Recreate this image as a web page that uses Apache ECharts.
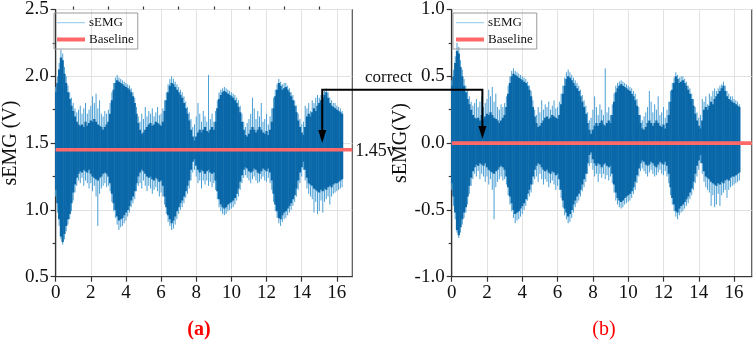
<!DOCTYPE html>
<html><head><meta charset="utf-8">
<script src="https://cdn.jsdelivr.net/npm/echarts@6/dist/echarts.min.js"></script>
<style>html,body{margin:0;padding:0;background:#fff}#c{width:754px;height:342px}</style>
</head><body><div id="c"></div>
<script>
// ---- data ----
const TIME_STEP = 0.1;           // seconds between envelope samples
const BASELINE_A = 1.45;         // raw baseline (V)
const BASELINE_B = 0.0;          // corrected baseline (V)
const X_MAJOR = [0, 2, 4, 6, 8, 10, 12, 14, 16];
const X_MINOR = [1, 3, 5, 7, 9, 11, 13, 15];
const Y_TICKS_A = [0.5, 1.0, 1.5, 2.0, 2.5];
const Y_TICKS_B = [-1.0, -0.5, 0.0, 0.5, 1.0];

// dense (dark) core of the raw sEMG, upper / lower envelope, one value per 0.1 s
const CORE_HI_A = [
  1.88,1.95,2.05,2.14,2.12,2.02,1.95,1.88,1.83,1.78,
  1.74,1.70,1.66,1.64,1.63,1.64,1.62,1.66,1.63,1.65,
  1.67,1.66,1.68,1.66,1.64,1.63,1.62,1.60,1.62,1.64,
  1.66,1.72,1.82,1.90,1.95,1.97,1.96,1.95,1.94,1.93,
  1.92,1.91,1.90,1.88,1.85,1.80,1.72,1.65,1.60,1.57,
  1.58,1.60,1.62,1.64,1.65,1.63,1.64,1.66,1.65,1.64,
  1.63,1.66,1.74,1.82,1.88,1.93,1.95,1.94,1.92,1.90,
  1.88,1.86,1.84,1.80,1.76,1.72,1.67,1.60,1.55,1.52,
  1.55,1.58,1.60,1.58,1.60,1.62,1.59,1.58,1.60,1.62,
  1.60,1.66,1.76,1.83,1.86,1.88,1.89,1.88,1.87,1.86,
  1.85,1.84,1.82,1.80,1.77,1.73,1.66,1.60,1.56,1.55,
  1.57,1.60,1.62,1.60,1.58,1.60,1.62,1.60,1.58,1.57,
  1.59,1.56,1.60,1.66,1.76,1.85,1.90,1.95,1.93,1.90,
  1.91,1.92,1.90,1.88,1.85,1.82,1.78,1.73,1.67,1.62,
  1.58,1.56,1.62,1.70,1.72,1.70,1.73,1.76,1.74,1.78,
  1.80,1.82,1.84,1.86,1.88,1.84,1.80,1.78,1.77,1.76,
  1.75,1.74,1.73,1.72
];
const CORE_LO_A = [
  1.15,1.05,0.93,0.80,0.76,0.82,0.88,0.93,0.97,1.05,
  1.13,1.19,1.24,1.27,1.29,1.28,1.30,1.29,1.28,1.30,
  1.27,1.25,1.24,1.23,1.22,1.24,1.25,1.27,1.28,1.27,
  1.25,1.20,1.12,1.05,1.00,0.95,0.92,0.93,0.94,0.96,
  0.98,1.00,1.03,1.07,1.10,1.14,1.20,1.25,1.28,1.30,
  1.29,1.27,1.25,1.24,1.25,1.23,1.22,1.24,1.23,1.21,
  1.22,1.18,1.10,1.02,0.96,0.93,0.90,0.92,0.95,0.99,
  1.02,1.05,1.07,1.10,1.14,1.18,1.22,1.30,1.36,1.38,
  1.33,1.30,1.28,1.30,1.29,1.27,1.29,1.30,1.28,1.27,
  1.28,1.22,1.14,1.08,1.04,1.02,1.01,1.02,1.04,1.05,
  1.06,1.07,1.09,1.12,1.16,1.21,1.26,1.30,1.32,1.31,
  1.29,1.28,1.29,1.31,1.30,1.28,1.27,1.29,1.31,1.30,
  1.29,1.31,1.28,1.22,1.12,1.04,0.99,0.94,0.93,0.96,
  0.98,0.99,1.01,1.03,1.05,1.08,1.11,1.16,1.22,1.28,
  1.32,1.36,1.30,1.24,1.20,1.19,1.18,1.16,1.15,1.14,
  1.13,1.15,1.14,1.16,1.15,1.17,1.18,1.17,1.19,1.20,
  1.20,1.21,1.22,1.23
];
// light spikes of the raw sEMG, highest / lowest value in each 0.1 s
const SPIKE_HI_A = [
  1.92,2.00,2.10,2.20,2.17,2.07,2.00,1.93,1.88,1.84,
  1.80,1.76,1.73,1.75,1.78,1.72,1.76,1.80,1.72,1.75,
  1.78,1.85,1.80,1.87,1.76,1.82,1.72,1.70,1.74,1.72,
  1.75,1.80,1.88,1.95,1.99,2.01,1.99,1.98,1.97,1.96,
  1.95,1.94,1.93,1.91,1.88,1.84,1.77,1.70,1.66,1.72,
  1.68,1.77,1.70,1.74,1.72,1.76,1.70,1.73,1.77,1.71,
  1.72,1.76,1.82,1.88,1.94,1.98,2.00,1.98,1.96,1.94,
  1.92,1.90,1.88,1.85,1.81,1.77,1.73,1.68,1.62,1.64,
  1.70,1.80,1.72,1.66,1.74,1.70,1.66,2.01,1.68,1.72,
  1.66,1.74,1.82,1.88,1.90,1.91,1.92,1.91,1.90,1.89,
  1.88,1.87,1.86,1.84,1.82,1.78,1.72,1.66,1.62,1.65,
  1.68,1.72,1.84,1.76,1.68,1.74,1.70,1.80,1.66,1.68,
  1.72,1.64,1.70,1.76,1.84,1.90,1.94,1.98,1.96,1.94,
  1.95,1.95,1.93,1.91,1.88,1.86,1.82,1.78,1.72,1.68,
  1.64,1.66,1.78,1.76,1.80,1.74,1.82,1.80,1.84,1.86,
  1.84,1.86,1.88,1.89,1.91,1.88,1.84,1.82,1.80,1.80,
  1.78,1.77,1.76,1.74
];
const SPIKE_LO_A = [
  1.10,0.98,0.88,0.78,0.74,0.78,0.84,0.89,0.93,0.99,
  1.07,1.13,1.18,1.22,1.20,1.24,1.18,1.22,1.20,1.16,
  1.20,1.14,1.18,1.10,0.88,1.12,1.16,1.18,1.20,1.17,
  1.18,1.14,1.06,0.99,0.94,0.89,0.85,0.87,0.88,0.90,
  0.92,0.95,0.98,1.02,1.05,1.08,1.14,1.18,1.20,1.16,
  1.22,1.18,1.14,1.18,1.16,1.12,1.15,1.17,1.14,1.10,
  1.13,1.10,1.04,0.97,0.91,0.88,0.85,0.86,0.89,0.93,
  0.97,1.00,1.02,1.05,1.09,1.12,1.16,1.22,1.28,1.30,
  1.25,1.20,1.22,1.16,1.22,1.19,1.22,1.18,1.21,1.17,
  1.20,1.15,1.08,1.02,0.99,0.97,0.96,0.97,0.99,1.00,
  1.01,1.02,1.04,1.07,1.10,1.15,1.20,1.24,1.26,1.24,
  1.22,1.20,1.23,1.25,1.22,1.20,1.21,1.23,1.25,1.22,
  1.21,1.24,1.20,1.15,1.06,0.99,0.94,0.90,0.88,0.91,
  0.93,0.94,0.96,0.98,1.00,1.03,1.06,1.10,1.15,1.20,
  1.25,1.30,1.22,1.16,1.12,1.10,1.08,0.98,1.06,0.97,
  0.99,1.07,0.98,1.06,1.08,1.10,1.04,1.10,1.12,1.13,
  1.14,1.15,1.16,1.17
];

// ---- derived (panel b = raw minus baseline) ----
const TIME = CORE_HI_A.map((_, i) => +(i * TIME_STEP).toFixed(1));
const correct = arr => arr.map(v => +(v - BASELINE_A).toFixed(3));
const CORE_HI_B = correct(CORE_HI_A), CORE_LO_B = correct(CORE_LO_A);
const SPIKE_HI_B = correct(SPIKE_HI_A), SPIKE_LO_B = correct(SPIKE_LO_A);

// ---- style ----
const FONT = '"Liberation Serif", "Times New Roman", serif';
const CORE_COLOR = '#0a68a9';
const SPIKE_COLOR = '#4a9fd4';
const LEGEND_SEMG = '#a3d3ee';
const BASE_COLOR = '#ff6868';
const X_MAX = [16.88, 17];

const ICON_THIN = 'path://M0,0h0.01v0.01h-0.01z M0,5.5h28v1.2h-28z M0,11.99h0.01v0.01h-0.01z';
const ICON_THICK = 'path://M0,0h0.01v0.01h-0.01z M0,4h28v4h-28z M0,11.99h0.01v0.01h-0.01z';

function renderCore(params, api) {
  const t = api.value(0);
  const p1 = api.coord([t - TIME_STEP / 2, api.value(2)]);
  const p2 = api.coord([t + TIME_STEP / 2, api.value(1)]);
  return { type: 'rect', shape: { x: p1[0] - 0.25, y: p1[1], width: p2[0] - p1[0] + 0.5, height: p2[1] - p1[1] },
    style: { fill: CORE_COLOR } };
}
function renderSpike(params, api) {
  const t = api.value(0);
  const a = api.coord([t, api.value(1)]), b = api.coord([t, api.value(2)]);
  return { type: 'line', shape: { x1: a[0], y1: a[1], x2: b[0], y2: b[1] },
    style: { stroke: SPIKE_COLOR, lineWidth: 1 } };
}

const grids = [
  { left: 52.7, top: 8.5, width: 299.6, height: 268.2 },
  { left: 451.7, top: 8.5, width: 300, height: 268.2 }
];

function xAxes(i) {
  return [
    { type: 'value', gridIndex: i, min: 0, max: X_MAX[i], interval: 2,
      axisLine: { show: true, onZero: false, lineStyle: { color: '#333', width: 1.2 } },
      axisTick: { show: true, customValues: X_MAJOR, length: 5, lineStyle: { color: '#333', width: 1.2 } },
      axisLabel: { customValues: X_MAJOR, color: '#111', fontFamily: FONT, fontSize: 19, margin: 7 },
      splitLine: { show: true, lineStyle: { color: '#e2e2e2', width: 1 } } },
    { type: 'value', gridIndex: i, min: 0, max: X_MAX[i], interval: 1,
      axisLine: { show: false },
      axisTick: { show: true, customValues: X_MINOR, length: 3, lineStyle: { color: '#333', width: 1.2 } },
      axisLabel: { show: false }, splitLine: { show: false } }
  ];
}
function yAxis(i, ticks, nameGap, name) {
  return { type: 'value', gridIndex: i, min: ticks[0], max: ticks[ticks.length - 1], interval: 0.5,
    name: name, nameLocation: 'middle', nameGap: nameGap,
    nameTextStyle: { fontFamily: FONT, fontSize: 20, color: '#111' },
    axisLine: { show: true, onZero: false, lineStyle: { color: '#333', width: 1.2 } },
    axisTick: { show: true, length: 5, lineStyle: { color: '#333', width: 1.2 } },
    minorTick: { show: true, splitNumber: 2, length: 3, lineStyle: { color: '#333', width: 1.2 } },
    axisLabel: { color: '#111', fontFamily: FONT, fontSize: 19, margin: 7, formatter: v => v.toFixed(1) },
    splitLine: { show: true, lineStyle: { color: '#e2e2e2', width: 1 } } };
}

function panelSeries(i, coreHi, coreLo, spikeHi, spikeLo, base) {
  const xi = i * 2;
  return [
    { name: 'sEMG', type: 'custom', xAxisIndex: xi, yAxisIndex: i, renderItem: renderSpike, clip: true,
      itemStyle: { color: LEGEND_SEMG }, encode: { x: 0, y: [1, 2] }, silent: true, z: 2,
      data: TIME.map((t, k) => [t, spikeLo[k], spikeHi[k]]) },
    { name: 'sEMG core', type: 'custom', xAxisIndex: xi, yAxisIndex: i, renderItem: renderCore, clip: true,
      itemStyle: { color: CORE_COLOR }, encode: { x: 0, y: [1, 2] }, silent: true, z: 3,
      data: TIME.map((t, k) => [t, coreLo[k], coreHi[k]]) },
    { name: 'Baseline', type: 'line', xAxisIndex: xi, yAxisIndex: i, symbol: 'none', silent: true, z: 5,
      lineStyle: { color: BASE_COLOR, width: 3.6 }, itemStyle: { color: BASE_COLOR },
      data: [[0, base], [X_MAX[i], base]] }
  ];
}

function legend(left) {
  return { left: left, top: 13, orient: 'vertical', itemWidth: 28, itemHeight: 12, itemGap: 4,
    padding: [3, 4, 3, 3], borderColor: '#9a9a9a', borderWidth: 1, selectedMode: false,
    itemStyle: { borderWidth: 0 },
    textStyle: { fontFamily: FONT, fontSize: 13, color: '#111', padding: [0, 0, 0, -1] },
    data: [ { name: 'sEMG', icon: ICON_THIN, itemStyle: { color: LEGEND_SEMG } },
            { name: 'Baseline', icon: ICON_THICK, itemStyle: { color: BASE_COLOR } } ] };
}

const chart = echarts.init(document.getElementById('c'), null, { renderer: 'canvas' });
chart.setOption({
  animation: false,
  backgroundColor: '#fff',
  grid: grids.map(g => Object.assign({ show: true, borderColor: '#555', borderWidth: 1.2, backgroundColor: 'transparent' }, g)),
  xAxis: [...xAxes(0), ...xAxes(1)],
  yAxis: [yAxis(0, Y_TICKS_A, 29, 'sEMG (V)'), yAxis(1, Y_TICKS_B, 40, 'sEMG(V)')],
  legend: [legend(54), legend(453)],
  series: [
    ...panelSeries(0, CORE_HI_A, CORE_LO_A, SPIKE_HI_A, SPIKE_LO_A, BASELINE_A),
    ...panelSeries(1, CORE_HI_B, CORE_LO_B, SPIKE_HI_B, SPIKE_LO_B, BASELINE_B)
  ]
});

// ---- annotation: "correct" arrow from panel (a) to panel (b) ----
const ARROW_A = { t: 15.17, top: 1.9, tip: 1.5 };
const ARROW_B = { t: 1.74, tip: 0.03 };
const pTopA = chart.convertToPixel({ gridIndex: 0 }, [ARROW_A.t, ARROW_A.top]);
const pTipA = chart.convertToPixel({ gridIndex: 0 }, [ARROW_A.t, ARROW_A.tip]);
const pTipB = chart.convertToPixel({ gridIndex: 1 }, [ARROW_B.t, ARROW_B.tip]);
const pBaseA = chart.convertToPixel({ gridIndex: 0 }, [X_MAX[0], BASELINE_A]);
const HEAD = 13, HW = 4;
const yTop = pTopA[1];
chart.setOption({
  graphic: [
    { type: 'polyline', z: 100, shape: { points: [[pTipA[0], pTipA[1] - HEAD + 1], [pTipA[0], yTop], [pTipB[0], yTop], [pTipB[0], pTipB[1] - HEAD + 1]] },
      style: { stroke: '#000', lineWidth: 2, fill: null } },
    { type: 'polygon', z: 100, shape: { points: [[pTipA[0] - HW, pTipA[1] - HEAD], [pTipA[0] + HW, pTipA[1] - HEAD], [pTipA[0], pTipA[1]]] }, style: { fill: '#000' } },
    { type: 'polygon', z: 100, shape: { points: [[pTipB[0] - HW, pTipB[1] - HEAD], [pTipB[0] + HW, pTipB[1] - HEAD], [pTipB[0], pTipB[1]]] }, style: { fill: '#000' } },
    { type: 'text', z: 100, x: 365, y: yTop - 12, style: { text: 'correct', fill: '#111', font: '17px ' + FONT, textVerticalAlign: 'middle' } },
    { type: 'text', z: 100, x: pBaseA[0] + 3, y: pBaseA[1] + 1, style: { text: '1.45v', fill: '#111', font: '18px ' + FONT, textVerticalAlign: 'middle' } },
    { type: 'text', z: 100, x: 199, y: 330, style: { text: '(a)', fill: '#ff0000', font: 'bold 20px ' + FONT, textAlign: 'center', textVerticalAlign: 'middle' } },
    { type: 'text', z: 100, x: 604, y: 330, style: { text: '(b)', fill: '#ff0000', font: '20px ' + FONT, textAlign: 'center', textVerticalAlign: 'middle' } }
  ]
});
</script>
</body></html>
